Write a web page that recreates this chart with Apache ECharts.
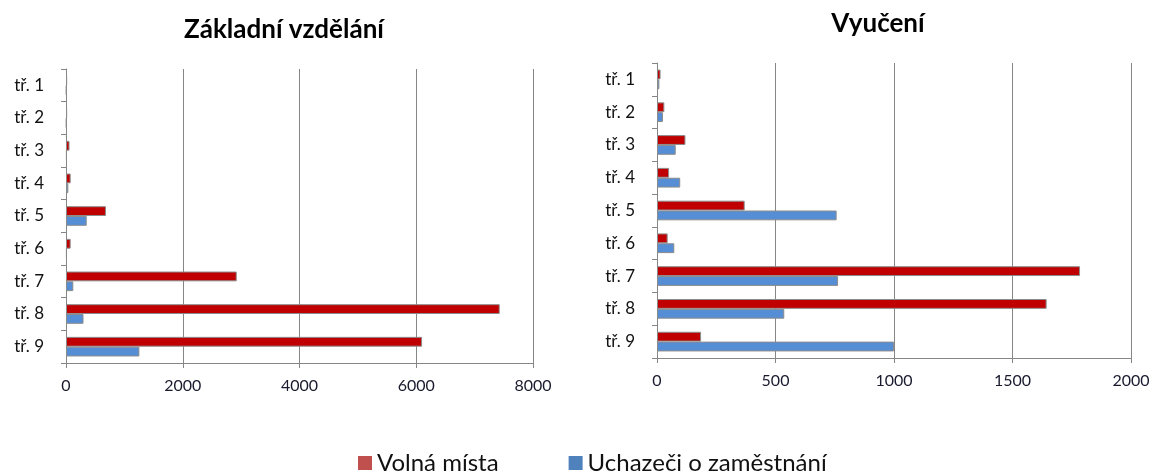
<!DOCTYPE html>
<html>
<head>
<meta charset="utf-8">
<script src="https://cdn.jsdelivr.net/npm/echarts@6/dist/echarts.min.js"></script>
<style>
  html, body { margin: 0; padding: 0; background: #fff; }
  #main { width: 1156px; height: 471px; }
</style>
</head>
<body>
<div id="main"></div>
<script>
// Data
var categories = ['tř. 1', 'tř. 2', 'tř. 3', 'tř. 4', 'tř. 5', 'tř. 6', 'tř. 7', 'tř. 8', 'tř. 9'];
var seriesNames = ['Volná místa', 'Uchazeči o zaměstnání'];

// Základní vzdělání
var zakladniVolna = [20, 20, 60, 80, 685, 80, 2925, 7430, 6100];
var zakladniUchazeci = [10, 10, 15, 40, 355, 15, 125, 300, 1257];

// Vyučení
var vyuceniVolna = [15, 31, 120, 51, 370, 45, 1785, 1644, 186];
var vyuceniUchazeci = [10, 25, 79, 98, 758, 73, 764, 537, 1000];

var chartDom = document.getElementById('main');
var myChart = echarts.init(chartDom);
var option;

var font = 'Lato, "Noto Sans", sans-serif';
var red = '#C00000';
var blue = '#558ED5';

function xAxisFor(gridIndex, max, interval) {
  return {
    type: 'value',
    gridIndex: gridIndex,
    min: 0,
    max: max,
    interval: interval,
    axisLine: { show: true, lineStyle: { color: '#868686' } },
    axisTick: { show: true, length: 5, lineStyle: { color: '#868686' } },
    axisLabel: {
      color: '#1a1a2e', fontSize: 16, fontFamily: font, margin: 15,
      formatter: function (v) { return String(v); }
    },
    splitLine: { show: true, lineStyle: { color: '#868686', width: 1 } }
  };
}

function yAxisFor(gridIndex) {
  return {
    type: 'category',
    gridIndex: gridIndex,
    data: categories,
    inverse: true,
    axisLine: { show: true, lineStyle: { color: '#868686' } },
    axisTick: { show: true, length: 5, lineStyle: { color: '#868686' } },
    axisLabel: { color: '#111', fontSize: 17, fontFamily: font, margin: 22 },
    splitLine: { show: false }
  };
}

function barSeries(name, data, color, idx) {
  return {
    name: name,
    type: 'bar',
    xAxisIndex: idx,
    yAxisIndex: idx,
    data: data,
    barGap: '0%',
    barCategoryGap: '40%',
    itemStyle: { color: color, borderColor: '#8c8c8c', borderWidth: 1 }
  };
}

option = {
  animation: false,
  title: [
    {
      text: 'Základní vzdělání',
      left: 279,
      top: 12,
      textAlign: 'center',
      textStyle: { fontFamily: font, fontSize: 26, fontWeight: 'bold', color: '#000' }
    },
    {
      text: 'Vyučení',
      left: 873,
      top: 6,
      textAlign: 'center',
      textStyle: { fontFamily: font, fontSize: 26, fontWeight: 'bold', color: '#000' }
    }
  ],
  legend: {
    data: [
      { name: seriesNames[0], itemStyle: { color: '#C0504D', borderWidth: 0 } },
      { name: seriesNames[1], itemStyle: { color: '#4F81BD', borderWidth: 0 } }
    ],
    left: 353,
    top: 446,
    itemWidth: 14,
    itemHeight: 14,
    itemGap: 70,
    icon: 'rect',
    textStyle: { fontFamily: font, fontSize: 24, color: '#111' }
  },
  grid: [
    { left: 66, right: 623, top: 69, bottom: 108 },
    { left: 657, right: 25, top: 63, bottom: 113 }
  ],
  xAxis: [xAxisFor(0, 8000, 2000), xAxisFor(1, 2000, 500)],
  yAxis: [yAxisFor(0), yAxisFor(1)],
  series: [
    barSeries(seriesNames[0], zakladniVolna, red, 0),
    barSeries(seriesNames[1], zakladniUchazeci, blue, 0),
    barSeries(seriesNames[0], vyuceniVolna, red, 1),
    barSeries(seriesNames[1], vyuceniUchazeci, blue, 1)
  ]
};

option && myChart.setOption(option);
</script>
</body>
</html>
